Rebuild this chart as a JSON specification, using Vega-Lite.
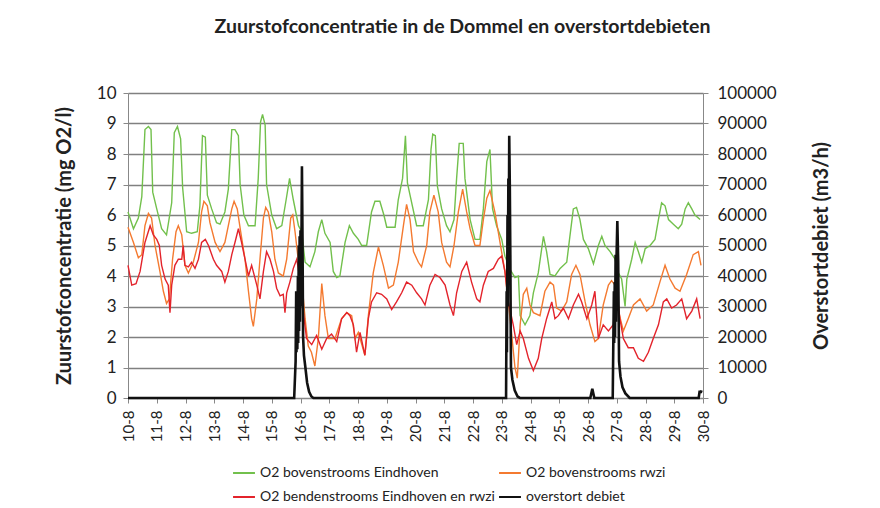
{
  "$schema": "https://vega.github.io/schema/vega-lite/v6.json",
  "width": 575,
  "height": 305,
  "autosize": {"type": "none"},
  "padding": {"left": 128, "top": 93, "right": 177, "bottom": 110},
  "background": "#ffffff",
  "config": {
    "font": "Lato",
    "view": {"stroke": null},
    "axis": {"labelColor": "#222", "titleColor": "#222", "labelFont": "Lato", "titleFont": "Lato"},
    "axisX": {"labelOverlap": false},
    "legend": {"labelFont": "Lato", "labelColor": "#222"}
  },
  "title": {
    "text": "Zuurstofconcentratie in de Dommel en overstortdebieten",
    "fontSize": 19.5,
    "fontWeight": "bold",
    "color": "#222",
    "anchor": "middle",
    "frame": "group",
    "dx": 47,
    "offset": 47
  },
  "datasets": {
    "o2": [
      {"series": "O2 bovenstrooms Eindhoven", "day": 10.0, "value": 6.1},
      {"series": "O2 bovenstrooms Eindhoven", "day": 10.19, "value": 5.55},
      {"series": "O2 bovenstrooms Eindhoven", "day": 10.36, "value": 5.9},
      {"series": "O2 bovenstrooms Eindhoven", "day": 10.48, "value": 6.6},
      {"series": "O2 bovenstrooms Eindhoven", "day": 10.59, "value": 8.8},
      {"series": "O2 bovenstrooms Eindhoven", "day": 10.71, "value": 8.9},
      {"series": "O2 bovenstrooms Eindhoven", "day": 10.8, "value": 8.8},
      {"series": "O2 bovenstrooms Eindhoven", "day": 10.86, "value": 6.75},
      {"series": "O2 bovenstrooms Eindhoven", "day": 11.0, "value": 6.2},
      {"series": "O2 bovenstrooms Eindhoven", "day": 11.17, "value": 5.55},
      {"series": "O2 bovenstrooms Eindhoven", "day": 11.34, "value": 5.35},
      {"series": "O2 bovenstrooms Eindhoven", "day": 11.52, "value": 6.4},
      {"series": "O2 bovenstrooms Eindhoven", "day": 11.61, "value": 8.7},
      {"series": "O2 bovenstrooms Eindhoven", "day": 11.72, "value": 8.9},
      {"series": "O2 bovenstrooms Eindhoven", "day": 11.83, "value": 8.5},
      {"series": "O2 bovenstrooms Eindhoven", "day": 11.9, "value": 6.9},
      {"series": "O2 bovenstrooms Eindhoven", "day": 12.04, "value": 5.45},
      {"series": "O2 bovenstrooms Eindhoven", "day": 12.21, "value": 5.4},
      {"series": "O2 bovenstrooms Eindhoven", "day": 12.41, "value": 5.45},
      {"series": "O2 bovenstrooms Eindhoven", "day": 12.5, "value": 6.3},
      {"series": "O2 bovenstrooms Eindhoven", "day": 12.59, "value": 8.6},
      {"series": "O2 bovenstrooms Eindhoven", "day": 12.69, "value": 8.55},
      {"series": "O2 bovenstrooms Eindhoven", "day": 12.76, "value": 6.65},
      {"series": "O2 bovenstrooms Eindhoven", "day": 12.91, "value": 6.2},
      {"series": "O2 bovenstrooms Eindhoven", "day": 13.08, "value": 5.75},
      {"series": "O2 bovenstrooms Eindhoven", "day": 13.2, "value": 5.7},
      {"series": "O2 bovenstrooms Eindhoven", "day": 13.37, "value": 6.1},
      {"series": "O2 bovenstrooms Eindhoven", "day": 13.49, "value": 6.85},
      {"series": "O2 bovenstrooms Eindhoven", "day": 13.61, "value": 8.8},
      {"series": "O2 bovenstrooms Eindhoven", "day": 13.72, "value": 8.8},
      {"series": "O2 bovenstrooms Eindhoven", "day": 13.84, "value": 8.6},
      {"series": "O2 bovenstrooms Eindhoven", "day": 13.9, "value": 7.0},
      {"series": "O2 bovenstrooms Eindhoven", "day": 14.03, "value": 6.0},
      {"series": "O2 bovenstrooms Eindhoven", "day": 14.19, "value": 5.65},
      {"series": "O2 bovenstrooms Eindhoven", "day": 14.42, "value": 5.65},
      {"series": "O2 bovenstrooms Eindhoven", "day": 14.53, "value": 7.2},
      {"series": "O2 bovenstrooms Eindhoven", "day": 14.61, "value": 9.05},
      {"series": "O2 bovenstrooms Eindhoven", "day": 14.68, "value": 9.3},
      {"series": "O2 bovenstrooms Eindhoven", "day": 14.77, "value": 8.95},
      {"series": "O2 bovenstrooms Eindhoven", "day": 14.82, "value": 7.0},
      {"series": "O2 bovenstrooms Eindhoven", "day": 15.0, "value": 6.0},
      {"series": "O2 bovenstrooms Eindhoven", "day": 15.17, "value": 5.55},
      {"series": "O2 bovenstrooms Eindhoven", "day": 15.35, "value": 5.65},
      {"series": "O2 bovenstrooms Eindhoven", "day": 15.5, "value": 6.5},
      {"series": "O2 bovenstrooms Eindhoven", "day": 15.62, "value": 7.2},
      {"series": "O2 bovenstrooms Eindhoven", "day": 15.75, "value": 6.5},
      {"series": "O2 bovenstrooms Eindhoven", "day": 15.93, "value": 5.65},
      {"series": "O2 bovenstrooms Eindhoven", "day": 16.04, "value": 5.45},
      {"series": "O2 bovenstrooms Eindhoven", "day": 16.16, "value": 4.45},
      {"series": "O2 bovenstrooms Eindhoven", "day": 16.33, "value": 4.3},
      {"series": "O2 bovenstrooms Eindhoven", "day": 16.5, "value": 4.8},
      {"series": "O2 bovenstrooms Eindhoven", "day": 16.62, "value": 5.45},
      {"series": "O2 bovenstrooms Eindhoven", "day": 16.74, "value": 5.85},
      {"series": "O2 bovenstrooms Eindhoven", "day": 16.85, "value": 5.4},
      {"series": "O2 bovenstrooms Eindhoven", "day": 17.03, "value": 5.1},
      {"series": "O2 bovenstrooms Eindhoven", "day": 17.14, "value": 4.15},
      {"series": "O2 bovenstrooms Eindhoven", "day": 17.26, "value": 3.95},
      {"series": "O2 bovenstrooms Eindhoven", "day": 17.37, "value": 4.0},
      {"series": "O2 bovenstrooms Eindhoven", "day": 17.55, "value": 5.1},
      {"series": "O2 bovenstrooms Eindhoven", "day": 17.7, "value": 5.65},
      {"series": "O2 bovenstrooms Eindhoven", "day": 17.84, "value": 5.4},
      {"series": "O2 bovenstrooms Eindhoven", "day": 18.01, "value": 5.2},
      {"series": "O2 bovenstrooms Eindhoven", "day": 18.13, "value": 5.0},
      {"series": "O2 bovenstrooms Eindhoven", "day": 18.3, "value": 5.0},
      {"series": "O2 bovenstrooms Eindhoven", "day": 18.47, "value": 6.1},
      {"series": "O2 bovenstrooms Eindhoven", "day": 18.59, "value": 6.45},
      {"series": "O2 bovenstrooms Eindhoven", "day": 18.76, "value": 6.45},
      {"series": "O2 bovenstrooms Eindhoven", "day": 18.9, "value": 6.0},
      {"series": "O2 bovenstrooms Eindhoven", "day": 19.0, "value": 5.6},
      {"series": "O2 bovenstrooms Eindhoven", "day": 19.29, "value": 5.6},
      {"series": "O2 bovenstrooms Eindhoven", "day": 19.4, "value": 6.5},
      {"series": "O2 bovenstrooms Eindhoven", "day": 19.55, "value": 7.2},
      {"series": "O2 bovenstrooms Eindhoven", "day": 19.65, "value": 8.6},
      {"series": "O2 bovenstrooms Eindhoven", "day": 19.72, "value": 7.05},
      {"series": "O2 bovenstrooms Eindhoven", "day": 19.81, "value": 6.65},
      {"series": "O2 bovenstrooms Eindhoven", "day": 20.04, "value": 5.65},
      {"series": "O2 bovenstrooms Eindhoven", "day": 20.27, "value": 5.65},
      {"series": "O2 bovenstrooms Eindhoven", "day": 20.45, "value": 6.5},
      {"series": "O2 bovenstrooms Eindhoven", "day": 20.54, "value": 8.15},
      {"series": "O2 bovenstrooms Eindhoven", "day": 20.6, "value": 8.65},
      {"series": "O2 bovenstrooms Eindhoven", "day": 20.69, "value": 8.6},
      {"series": "O2 bovenstrooms Eindhoven", "day": 20.76, "value": 6.95},
      {"series": "O2 bovenstrooms Eindhoven", "day": 20.91, "value": 6.2},
      {"series": "O2 bovenstrooms Eindhoven", "day": 21.08, "value": 5.65},
      {"series": "O2 bovenstrooms Eindhoven", "day": 21.2, "value": 5.45},
      {"series": "O2 bovenstrooms Eindhoven", "day": 21.34, "value": 5.85},
      {"series": "O2 bovenstrooms Eindhoven", "day": 21.43, "value": 7.2},
      {"series": "O2 bovenstrooms Eindhoven", "day": 21.52, "value": 8.35},
      {"series": "O2 bovenstrooms Eindhoven", "day": 21.66, "value": 8.35},
      {"series": "O2 bovenstrooms Eindhoven", "day": 21.72, "value": 7.2},
      {"series": "O2 bovenstrooms Eindhoven", "day": 21.9, "value": 5.85},
      {"series": "O2 bovenstrooms Eindhoven", "day": 22.07, "value": 5.2},
      {"series": "O2 bovenstrooms Eindhoven", "day": 22.24, "value": 5.2},
      {"series": "O2 bovenstrooms Eindhoven", "day": 22.36, "value": 6.2},
      {"series": "O2 bovenstrooms Eindhoven", "day": 22.48, "value": 7.75},
      {"series": "O2 bovenstrooms Eindhoven", "day": 22.59, "value": 8.15},
      {"series": "O2 bovenstrooms Eindhoven", "day": 22.68, "value": 6.2},
      {"series": "O2 bovenstrooms Eindhoven", "day": 22.82, "value": 5.65},
      {"series": "O2 bovenstrooms Eindhoven", "day": 23.0, "value": 5.2},
      {"series": "O2 bovenstrooms Eindhoven", "day": 23.11, "value": 4.65},
      {"series": "O2 bovenstrooms Eindhoven", "day": 23.3, "value": 4.2},
      {"series": "O2 bovenstrooms Eindhoven", "day": 23.46, "value": 3.95},
      {"series": "O2 bovenstrooms Eindhoven", "day": 23.58, "value": 4.0},
      {"series": "O2 bovenstrooms Eindhoven", "day": 23.64, "value": 2.7},
      {"series": "O2 bovenstrooms Eindhoven", "day": 23.81, "value": 2.4},
      {"series": "O2 bovenstrooms Eindhoven", "day": 23.98, "value": 2.7},
      {"series": "O2 bovenstrooms Eindhoven", "day": 24.1, "value": 3.45},
      {"series": "O2 bovenstrooms Eindhoven", "day": 24.27, "value": 4.1},
      {"series": "O2 bovenstrooms Eindhoven", "day": 24.45, "value": 5.3},
      {"series": "O2 bovenstrooms Eindhoven", "day": 24.56, "value": 4.8},
      {"series": "O2 bovenstrooms Eindhoven", "day": 24.68, "value": 4.05},
      {"series": "O2 bovenstrooms Eindhoven", "day": 24.85, "value": 4.0},
      {"series": "O2 bovenstrooms Eindhoven", "day": 25.03, "value": 4.25},
      {"series": "O2 bovenstrooms Eindhoven", "day": 25.26, "value": 4.45},
      {"series": "O2 bovenstrooms Eindhoven", "day": 25.37, "value": 5.3},
      {"series": "O2 bovenstrooms Eindhoven", "day": 25.49, "value": 6.2},
      {"series": "O2 bovenstrooms Eindhoven", "day": 25.6, "value": 6.25},
      {"series": "O2 bovenstrooms Eindhoven", "day": 25.72, "value": 5.85},
      {"series": "O2 bovenstrooms Eindhoven", "day": 25.84, "value": 5.2},
      {"series": "O2 bovenstrooms Eindhoven", "day": 26.01, "value": 4.9},
      {"series": "O2 bovenstrooms Eindhoven", "day": 26.19, "value": 4.4},
      {"series": "O2 bovenstrooms Eindhoven", "day": 26.36, "value": 5.0},
      {"series": "O2 bovenstrooms Eindhoven", "day": 26.48, "value": 5.3},
      {"series": "O2 bovenstrooms Eindhoven", "day": 26.59, "value": 5.0},
      {"series": "O2 bovenstrooms Eindhoven", "day": 26.77, "value": 4.8},
      {"series": "O2 bovenstrooms Eindhoven", "day": 26.94, "value": 4.55},
      {"series": "O2 bovenstrooms Eindhoven", "day": 27.06, "value": 4.1},
      {"series": "O2 bovenstrooms Eindhoven", "day": 27.17, "value": 3.9},
      {"series": "O2 bovenstrooms Eindhoven", "day": 27.29, "value": 3.0},
      {"series": "O2 bovenstrooms Eindhoven", "day": 27.35, "value": 3.9},
      {"series": "O2 bovenstrooms Eindhoven", "day": 27.52, "value": 4.55},
      {"series": "O2 bovenstrooms Eindhoven", "day": 27.64, "value": 5.1},
      {"series": "O2 bovenstrooms Eindhoven", "day": 27.75, "value": 4.8},
      {"series": "O2 bovenstrooms Eindhoven", "day": 27.87, "value": 4.45},
      {"series": "O2 bovenstrooms Eindhoven", "day": 27.99, "value": 4.9},
      {"series": "O2 bovenstrooms Eindhoven", "day": 28.16, "value": 5.0},
      {"series": "O2 bovenstrooms Eindhoven", "day": 28.33, "value": 5.2},
      {"series": "O2 bovenstrooms Eindhoven", "day": 28.45, "value": 5.85},
      {"series": "O2 bovenstrooms Eindhoven", "day": 28.56, "value": 6.4},
      {"series": "O2 bovenstrooms Eindhoven", "day": 28.68, "value": 6.3},
      {"series": "O2 bovenstrooms Eindhoven", "day": 28.8, "value": 5.85},
      {"series": "O2 bovenstrooms Eindhoven", "day": 28.97, "value": 5.7},
      {"series": "O2 bovenstrooms Eindhoven", "day": 29.14, "value": 5.55},
      {"series": "O2 bovenstrooms Eindhoven", "day": 29.26, "value": 5.7},
      {"series": "O2 bovenstrooms Eindhoven", "day": 29.38, "value": 6.2},
      {"series": "O2 bovenstrooms Eindhoven", "day": 29.49, "value": 6.4},
      {"series": "O2 bovenstrooms Eindhoven", "day": 29.61, "value": 6.2},
      {"series": "O2 bovenstrooms Eindhoven", "day": 29.72, "value": 6.0},
      {"series": "O2 bovenstrooms Eindhoven", "day": 29.9, "value": 5.85},

      {"series": "O2 bovenstrooms rwzi", "day": 10.0, "value": 5.6},
      {"series": "O2 bovenstrooms rwzi", "day": 10.19, "value": 5.1},
      {"series": "O2 bovenstrooms rwzi", "day": 10.36, "value": 4.6},
      {"series": "O2 bovenstrooms rwzi", "day": 10.48, "value": 4.7},
      {"series": "O2 bovenstrooms rwzi", "day": 10.59, "value": 5.65},
      {"series": "O2 bovenstrooms rwzi", "day": 10.71, "value": 6.05},
      {"series": "O2 bovenstrooms rwzi", "day": 10.82, "value": 5.9},
      {"series": "O2 bovenstrooms rwzi", "day": 10.94, "value": 5.0},
      {"series": "O2 bovenstrooms rwzi", "day": 11.11, "value": 4.15},
      {"series": "O2 bovenstrooms rwzi", "day": 11.23, "value": 3.5},
      {"series": "O2 bovenstrooms rwzi", "day": 11.34, "value": 3.1},
      {"series": "O2 bovenstrooms rwzi", "day": 11.44, "value": 3.25},
      {"series": "O2 bovenstrooms rwzi", "day": 11.55, "value": 4.55},
      {"series": "O2 bovenstrooms rwzi", "day": 11.67, "value": 5.45},
      {"series": "O2 bovenstrooms rwzi", "day": 11.75, "value": 5.65},
      {"series": "O2 bovenstrooms rwzi", "day": 11.87, "value": 5.35},
      {"series": "O2 bovenstrooms rwzi", "day": 11.98, "value": 4.35},
      {"series": "O2 bovenstrooms rwzi", "day": 12.1, "value": 4.1},
      {"series": "O2 bovenstrooms rwzi", "day": 12.27, "value": 4.45},
      {"series": "O2 bovenstrooms rwzi", "day": 12.45, "value": 5.1},
      {"series": "O2 bovenstrooms rwzi", "day": 12.56, "value": 6.1},
      {"series": "O2 bovenstrooms rwzi", "day": 12.64, "value": 6.45},
      {"series": "O2 bovenstrooms rwzi", "day": 12.76, "value": 6.3},
      {"series": "O2 bovenstrooms rwzi", "day": 12.85, "value": 5.75},
      {"series": "O2 bovenstrooms rwzi", "day": 13.03, "value": 5.1},
      {"series": "O2 bovenstrooms rwzi", "day": 13.2, "value": 4.8},
      {"series": "O2 bovenstrooms rwzi", "day": 13.37, "value": 5.1},
      {"series": "O2 bovenstrooms rwzi", "day": 13.49, "value": 5.65},
      {"series": "O2 bovenstrooms rwzi", "day": 13.61, "value": 6.2},
      {"series": "O2 bovenstrooms rwzi", "day": 13.69, "value": 6.45},
      {"series": "O2 bovenstrooms rwzi", "day": 13.8, "value": 6.2},
      {"series": "O2 bovenstrooms rwzi", "day": 13.92, "value": 5.45},
      {"series": "O2 bovenstrooms rwzi", "day": 14.07, "value": 4.55},
      {"series": "O2 bovenstrooms rwzi", "day": 14.19, "value": 3.5},
      {"series": "O2 bovenstrooms rwzi", "day": 14.3, "value": 2.6},
      {"series": "O2 bovenstrooms rwzi", "day": 14.36, "value": 2.35},
      {"series": "O2 bovenstrooms rwzi", "day": 14.48, "value": 3.25},
      {"series": "O2 bovenstrooms rwzi", "day": 14.59, "value": 4.55},
      {"series": "O2 bovenstrooms rwzi", "day": 14.71, "value": 5.9},
      {"series": "O2 bovenstrooms rwzi", "day": 14.79, "value": 6.25},
      {"series": "O2 bovenstrooms rwzi", "day": 14.88, "value": 6.1},
      {"series": "O2 bovenstrooms rwzi", "day": 15.0, "value": 5.45},
      {"series": "O2 bovenstrooms rwzi", "day": 15.11, "value": 4.55},
      {"series": "O2 bovenstrooms rwzi", "day": 15.23, "value": 4.1},
      {"series": "O2 bovenstrooms rwzi", "day": 15.4, "value": 4.0},
      {"series": "O2 bovenstrooms rwzi", "day": 15.52, "value": 4.55},
      {"series": "O2 bovenstrooms rwzi", "day": 15.66, "value": 5.9},
      {"series": "O2 bovenstrooms rwzi", "day": 15.73, "value": 6.0},
      {"series": "O2 bovenstrooms rwzi", "day": 15.81, "value": 5.45},
      {"series": "O2 bovenstrooms rwzi", "day": 15.92, "value": 4.55},
      {"series": "O2 bovenstrooms rwzi", "day": 16.04, "value": 3.9},
      {"series": "O2 bovenstrooms rwzi", "day": 16.16, "value": 2.6},
      {"series": "O2 bovenstrooms rwzi", "day": 16.27, "value": 1.7},
      {"series": "O2 bovenstrooms rwzi", "day": 16.38, "value": 1.5},
      {"series": "O2 bovenstrooms rwzi", "day": 16.5, "value": 1.05},
      {"series": "O2 bovenstrooms rwzi", "day": 16.62, "value": 1.95},
      {"series": "O2 bovenstrooms rwzi", "day": 16.74, "value": 3.75},
      {"series": "O2 bovenstrooms rwzi", "day": 16.85, "value": 2.7},
      {"series": "O2 bovenstrooms rwzi", "day": 16.97, "value": 1.95},
      {"series": "O2 bovenstrooms rwzi", "day": 17.2, "value": 1.95},
      {"series": "O2 bovenstrooms rwzi", "day": 17.43, "value": 2.6},
      {"series": "O2 bovenstrooms rwzi", "day": 17.61, "value": 2.8},
      {"series": "O2 bovenstrooms rwzi", "day": 17.78, "value": 2.7},
      {"series": "O2 bovenstrooms rwzi", "day": 17.9, "value": 1.95},
      {"series": "O2 bovenstrooms rwzi", "day": 18.01, "value": 2.15},
      {"series": "O2 bovenstrooms rwzi", "day": 18.24, "value": 1.4},
      {"series": "O2 bovenstrooms rwzi", "day": 18.36, "value": 2.7},
      {"series": "O2 bovenstrooms rwzi", "day": 18.53, "value": 4.1},
      {"series": "O2 bovenstrooms rwzi", "day": 18.71, "value": 4.95},
      {"series": "O2 bovenstrooms rwzi", "day": 18.88, "value": 4.35},
      {"series": "O2 bovenstrooms rwzi", "day": 19.06, "value": 3.6},
      {"series": "O2 bovenstrooms rwzi", "day": 19.23, "value": 3.7},
      {"series": "O2 bovenstrooms rwzi", "day": 19.4, "value": 4.45},
      {"series": "O2 bovenstrooms rwzi", "day": 19.58, "value": 5.65},
      {"series": "O2 bovenstrooms rwzi", "day": 19.69, "value": 6.35},
      {"series": "O2 bovenstrooms rwzi", "day": 19.81, "value": 5.85},
      {"series": "O2 bovenstrooms rwzi", "day": 19.93, "value": 4.8},
      {"series": "O2 bovenstrooms rwzi", "day": 20.1, "value": 4.45},
      {"series": "O2 bovenstrooms rwzi", "day": 20.21, "value": 4.3},
      {"series": "O2 bovenstrooms rwzi", "day": 20.39, "value": 5.0},
      {"series": "O2 bovenstrooms rwzi", "day": 20.5, "value": 6.1},
      {"series": "O2 bovenstrooms rwzi", "day": 20.64, "value": 6.65},
      {"series": "O2 bovenstrooms rwzi", "day": 20.79, "value": 6.1},
      {"series": "O2 bovenstrooms rwzi", "day": 20.91, "value": 5.1},
      {"series": "O2 bovenstrooms rwzi", "day": 21.08, "value": 4.45},
      {"series": "O2 bovenstrooms rwzi", "day": 21.2, "value": 4.3},
      {"series": "O2 bovenstrooms rwzi", "day": 21.34, "value": 5.0},
      {"series": "O2 bovenstrooms rwzi", "day": 21.49, "value": 6.1},
      {"series": "O2 bovenstrooms rwzi", "day": 21.64, "value": 6.85},
      {"series": "O2 bovenstrooms rwzi", "day": 21.78, "value": 6.1},
      {"series": "O2 bovenstrooms rwzi", "day": 21.9, "value": 5.55},
      {"series": "O2 bovenstrooms rwzi", "day": 22.07, "value": 5.0},
      {"series": "O2 bovenstrooms rwzi", "day": 22.24, "value": 5.0},
      {"series": "O2 bovenstrooms rwzi", "day": 22.36, "value": 5.85},
      {"series": "O2 bovenstrooms rwzi", "day": 22.48, "value": 6.55},
      {"series": "O2 bovenstrooms rwzi", "day": 22.59, "value": 6.8},
      {"series": "O2 bovenstrooms rwzi", "day": 22.76, "value": 6.1},
      {"series": "O2 bovenstrooms rwzi", "day": 22.94, "value": 5.1},
      {"series": "O2 bovenstrooms rwzi", "day": 23.11, "value": 4.15},
      {"series": "O2 bovenstrooms rwzi", "day": 23.29, "value": 2.6},
      {"series": "O2 bovenstrooms rwzi", "day": 23.46, "value": 1.0},
      {"series": "O2 bovenstrooms rwzi", "day": 23.54, "value": 0.65},
      {"series": "O2 bovenstrooms rwzi", "day": 23.64, "value": 2.4},
      {"series": "O2 bovenstrooms rwzi", "day": 23.75, "value": 3.4},
      {"series": "O2 bovenstrooms rwzi", "day": 23.87, "value": 3.6},
      {"series": "O2 bovenstrooms rwzi", "day": 23.98, "value": 3.05},
      {"series": "O2 bovenstrooms rwzi", "day": 24.1, "value": 2.8},
      {"series": "O2 bovenstrooms rwzi", "day": 24.33, "value": 2.7},
      {"series": "O2 bovenstrooms rwzi", "day": 24.5, "value": 3.5},
      {"series": "O2 bovenstrooms rwzi", "day": 24.68, "value": 3.8},
      {"series": "O2 bovenstrooms rwzi", "day": 24.8, "value": 3.7},
      {"series": "O2 bovenstrooms rwzi", "day": 24.91, "value": 2.95},
      {"series": "O2 bovenstrooms rwzi", "day": 25.08, "value": 2.85},
      {"series": "O2 bovenstrooms rwzi", "day": 25.26, "value": 3.15},
      {"series": "O2 bovenstrooms rwzi", "day": 25.43, "value": 4.05},
      {"series": "O2 bovenstrooms rwzi", "day": 25.58, "value": 4.35},
      {"series": "O2 bovenstrooms rwzi", "day": 25.72, "value": 4.05},
      {"series": "O2 bovenstrooms rwzi", "day": 25.9, "value": 3.15},
      {"series": "O2 bovenstrooms rwzi", "day": 26.07, "value": 2.4},
      {"series": "O2 bovenstrooms rwzi", "day": 26.24, "value": 1.85},
      {"series": "O2 bovenstrooms rwzi", "day": 26.36, "value": 1.95},
      {"series": "O2 bovenstrooms rwzi", "day": 26.53, "value": 3.05},
      {"series": "O2 bovenstrooms rwzi", "day": 26.71, "value": 3.7},
      {"series": "O2 bovenstrooms rwzi", "day": 26.82, "value": 3.85},
      {"series": "O2 bovenstrooms rwzi", "day": 26.94, "value": 3.7},
      {"series": "O2 bovenstrooms rwzi", "day": 27.06, "value": 2.85},
      {"series": "O2 bovenstrooms rwzi", "day": 27.23, "value": 2.2},
      {"series": "O2 bovenstrooms rwzi", "day": 27.4, "value": 2.6},
      {"series": "O2 bovenstrooms rwzi", "day": 27.58, "value": 3.05},
      {"series": "O2 bovenstrooms rwzi", "day": 27.81, "value": 3.25},
      {"series": "O2 bovenstrooms rwzi", "day": 28.04, "value": 2.85},
      {"series": "O2 bovenstrooms rwzi", "day": 28.27, "value": 3.05},
      {"series": "O2 bovenstrooms rwzi", "day": 28.5, "value": 3.8},
      {"series": "O2 bovenstrooms rwzi", "day": 28.68, "value": 4.35},
      {"series": "O2 bovenstrooms rwzi", "day": 28.85, "value": 3.9},
      {"series": "O2 bovenstrooms rwzi", "day": 29.03, "value": 3.6},
      {"series": "O2 bovenstrooms rwzi", "day": 29.2, "value": 3.5},
      {"series": "O2 bovenstrooms rwzi", "day": 29.43, "value": 4.05},
      {"series": "O2 bovenstrooms rwzi", "day": 29.66, "value": 4.7},
      {"series": "O2 bovenstrooms rwzi", "day": 29.84, "value": 4.8},
      {"series": "O2 bovenstrooms rwzi", "day": 29.93, "value": 4.35},

      {"series": "O2 bendenstrooms Eindhoven en rwzi", "day": 10.0, "value": 4.35},
      {"series": "O2 bendenstrooms Eindhoven en rwzi", "day": 10.13, "value": 3.7},
      {"series": "O2 bendenstrooms Eindhoven en rwzi", "day": 10.28, "value": 3.75},
      {"series": "O2 bendenstrooms Eindhoven en rwzi", "day": 10.42, "value": 4.15},
      {"series": "O2 bendenstrooms Eindhoven en rwzi", "day": 10.59, "value": 5.1},
      {"series": "O2 bendenstrooms Eindhoven en rwzi", "day": 10.77, "value": 5.65},
      {"series": "O2 bendenstrooms Eindhoven en rwzi", "day": 10.88, "value": 5.35},
      {"series": "O2 bendenstrooms Eindhoven en rwzi", "day": 11.0, "value": 5.2},
      {"series": "O2 bendenstrooms Eindhoven en rwzi", "day": 11.09, "value": 5.0},
      {"series": "O2 bendenstrooms Eindhoven en rwzi", "day": 11.17, "value": 4.35},
      {"series": "O2 bendenstrooms Eindhoven en rwzi", "day": 11.29, "value": 3.9},
      {"series": "O2 bendenstrooms Eindhoven en rwzi", "day": 11.4, "value": 3.7},
      {"series": "O2 bendenstrooms Eindhoven en rwzi", "day": 11.46, "value": 2.8},
      {"series": "O2 bendenstrooms Eindhoven en rwzi", "day": 11.52, "value": 3.7},
      {"series": "O2 bendenstrooms Eindhoven en rwzi", "day": 11.63, "value": 4.35},
      {"series": "O2 bendenstrooms Eindhoven en rwzi", "day": 11.75, "value": 4.55},
      {"series": "O2 bendenstrooms Eindhoven en rwzi", "day": 11.87, "value": 4.55},
      {"series": "O2 bendenstrooms Eindhoven en rwzi", "day": 11.92, "value": 5.0},
      {"series": "O2 bendenstrooms Eindhoven en rwzi", "day": 11.98, "value": 4.35},
      {"series": "O2 bendenstrooms Eindhoven en rwzi", "day": 12.1, "value": 4.3},
      {"series": "O2 bendenstrooms Eindhoven en rwzi", "day": 12.21, "value": 4.45},
      {"series": "O2 bendenstrooms Eindhoven en rwzi", "day": 12.33, "value": 4.25},
      {"series": "O2 bendenstrooms Eindhoven en rwzi", "day": 12.45, "value": 4.55},
      {"series": "O2 bendenstrooms Eindhoven en rwzi", "day": 12.56, "value": 5.1},
      {"series": "O2 bendenstrooms Eindhoven en rwzi", "day": 12.69, "value": 5.2},
      {"series": "O2 bendenstrooms Eindhoven en rwzi", "day": 12.8, "value": 5.0},
      {"series": "O2 bendenstrooms Eindhoven en rwzi", "day": 12.97, "value": 4.55},
      {"series": "O2 bendenstrooms Eindhoven en rwzi", "day": 13.08, "value": 4.35},
      {"series": "O2 bendenstrooms Eindhoven en rwzi", "day": 13.26, "value": 4.15},
      {"series": "O2 bendenstrooms Eindhoven en rwzi", "day": 13.37, "value": 3.8},
      {"series": "O2 bendenstrooms Eindhoven en rwzi", "day": 13.49, "value": 4.15},
      {"series": "O2 bendenstrooms Eindhoven en rwzi", "day": 13.61, "value": 4.7},
      {"series": "O2 bendenstrooms Eindhoven en rwzi", "day": 13.72, "value": 5.1},
      {"series": "O2 bendenstrooms Eindhoven en rwzi", "day": 13.84, "value": 5.55},
      {"series": "O2 bendenstrooms Eindhoven en rwzi", "day": 13.95, "value": 5.1},
      {"series": "O2 bendenstrooms Eindhoven en rwzi", "day": 14.07, "value": 4.55},
      {"series": "O2 bendenstrooms Eindhoven en rwzi", "day": 14.19, "value": 4.0},
      {"series": "O2 bendenstrooms Eindhoven en rwzi", "day": 14.3, "value": 4.35},
      {"series": "O2 bendenstrooms Eindhoven en rwzi", "day": 14.48, "value": 3.7},
      {"series": "O2 bendenstrooms Eindhoven en rwzi", "day": 14.59, "value": 3.25},
      {"series": "O2 bendenstrooms Eindhoven en rwzi", "day": 14.71, "value": 4.15},
      {"series": "O2 bendenstrooms Eindhoven en rwzi", "day": 14.82, "value": 4.8},
      {"series": "O2 bendenstrooms Eindhoven en rwzi", "day": 14.94, "value": 4.55},
      {"series": "O2 bendenstrooms Eindhoven en rwzi", "day": 15.06, "value": 4.15},
      {"series": "O2 bendenstrooms Eindhoven en rwzi", "day": 15.17, "value": 3.6},
      {"series": "O2 bendenstrooms Eindhoven en rwzi", "day": 15.29, "value": 3.35},
      {"series": "O2 bendenstrooms Eindhoven en rwzi", "day": 15.4, "value": 3.4},
      {"series": "O2 bendenstrooms Eindhoven en rwzi", "day": 15.46, "value": 2.8},
      {"series": "O2 bendenstrooms Eindhoven en rwzi", "day": 15.52, "value": 3.45},
      {"series": "O2 bendenstrooms Eindhoven en rwzi", "day": 15.63, "value": 3.8},
      {"series": "O2 bendenstrooms Eindhoven en rwzi", "day": 15.75, "value": 4.25},
      {"series": "O2 bendenstrooms Eindhoven en rwzi", "day": 15.87, "value": 4.55},
      {"series": "O2 bendenstrooms Eindhoven en rwzi", "day": 15.98, "value": 3.9},
      {"series": "O2 bendenstrooms Eindhoven en rwzi", "day": 16.1, "value": 2.8},
      {"series": "O2 bendenstrooms Eindhoven en rwzi", "day": 16.21, "value": 1.95},
      {"series": "O2 bendenstrooms Eindhoven en rwzi", "day": 16.39, "value": 1.75},
      {"series": "O2 bendenstrooms Eindhoven en rwzi", "day": 16.56, "value": 2.05},
      {"series": "O2 bendenstrooms Eindhoven en rwzi", "day": 16.74, "value": 1.6},
      {"series": "O2 bendenstrooms Eindhoven en rwzi", "day": 16.91, "value": 1.95},
      {"series": "O2 bendenstrooms Eindhoven en rwzi", "day": 17.08, "value": 2.1},
      {"series": "O2 bendenstrooms Eindhoven en rwzi", "day": 17.26, "value": 1.85},
      {"series": "O2 bendenstrooms Eindhoven en rwzi", "day": 17.43, "value": 2.6},
      {"series": "O2 bendenstrooms Eindhoven en rwzi", "day": 17.61, "value": 2.8},
      {"series": "O2 bendenstrooms Eindhoven en rwzi", "day": 17.72, "value": 2.7},
      {"series": "O2 bendenstrooms Eindhoven en rwzi", "day": 17.84, "value": 2.4},
      {"series": "O2 bendenstrooms Eindhoven en rwzi", "day": 17.95, "value": 1.5},
      {"series": "O2 bendenstrooms Eindhoven en rwzi", "day": 18.07, "value": 2.15},
      {"series": "O2 bendenstrooms Eindhoven en rwzi", "day": 18.24, "value": 1.4},
      {"series": "O2 bendenstrooms Eindhoven en rwzi", "day": 18.36, "value": 2.6},
      {"series": "O2 bendenstrooms Eindhoven en rwzi", "day": 18.47, "value": 3.15},
      {"series": "O2 bendenstrooms Eindhoven en rwzi", "day": 18.65, "value": 3.45},
      {"series": "O2 bendenstrooms Eindhoven en rwzi", "day": 18.82, "value": 3.4},
      {"series": "O2 bendenstrooms Eindhoven en rwzi", "day": 19.0, "value": 3.25},
      {"series": "O2 bendenstrooms Eindhoven en rwzi", "day": 19.17, "value": 2.9},
      {"series": "O2 bendenstrooms Eindhoven en rwzi", "day": 19.34, "value": 3.15},
      {"series": "O2 bendenstrooms Eindhoven en rwzi", "day": 19.52, "value": 3.45},
      {"series": "O2 bendenstrooms Eindhoven en rwzi", "day": 19.69, "value": 3.8},
      {"series": "O2 bendenstrooms Eindhoven en rwzi", "day": 19.87, "value": 3.7},
      {"series": "O2 bendenstrooms Eindhoven en rwzi", "day": 20.04, "value": 3.45},
      {"series": "O2 bendenstrooms Eindhoven en rwzi", "day": 20.21, "value": 3.25},
      {"series": "O2 bendenstrooms Eindhoven en rwzi", "day": 20.33, "value": 3.05},
      {"series": "O2 bendenstrooms Eindhoven en rwzi", "day": 20.5, "value": 3.7},
      {"series": "O2 bendenstrooms Eindhoven en rwzi", "day": 20.68, "value": 4.05},
      {"series": "O2 bendenstrooms Eindhoven en rwzi", "day": 20.85, "value": 3.95},
      {"series": "O2 bendenstrooms Eindhoven en rwzi", "day": 21.03, "value": 3.7},
      {"series": "O2 bendenstrooms Eindhoven en rwzi", "day": 21.2, "value": 3.05},
      {"series": "O2 bendenstrooms Eindhoven en rwzi", "day": 21.32, "value": 2.7},
      {"series": "O2 bendenstrooms Eindhoven en rwzi", "day": 21.43, "value": 3.45},
      {"series": "O2 bendenstrooms Eindhoven en rwzi", "day": 21.61, "value": 4.15},
      {"series": "O2 bendenstrooms Eindhoven en rwzi", "day": 21.78, "value": 4.45},
      {"series": "O2 bendenstrooms Eindhoven en rwzi", "day": 21.95, "value": 3.8},
      {"series": "O2 bendenstrooms Eindhoven en rwzi", "day": 22.13, "value": 3.25},
      {"series": "O2 bendenstrooms Eindhoven en rwzi", "day": 22.24, "value": 3.15},
      {"series": "O2 bendenstrooms Eindhoven en rwzi", "day": 22.36, "value": 3.7},
      {"series": "O2 bendenstrooms Eindhoven en rwzi", "day": 22.53, "value": 4.15},
      {"series": "O2 bendenstrooms Eindhoven en rwzi", "day": 22.71, "value": 4.25},
      {"series": "O2 bendenstrooms Eindhoven en rwzi", "day": 22.88, "value": 4.55},
      {"series": "O2 bendenstrooms Eindhoven en rwzi", "day": 23.0, "value": 4.65},
      {"series": "O2 bendenstrooms Eindhoven en rwzi", "day": 23.11, "value": 4.15},
      {"series": "O2 bendenstrooms Eindhoven en rwzi", "day": 23.23, "value": 3.15},
      {"series": "O2 bendenstrooms Eindhoven en rwzi", "day": 23.4, "value": 2.4},
      {"series": "O2 bendenstrooms Eindhoven en rwzi", "day": 23.52, "value": 1.75},
      {"series": "O2 bendenstrooms Eindhoven en rwzi", "day": 23.64, "value": 2.2},
      {"series": "O2 bendenstrooms Eindhoven en rwzi", "day": 23.75, "value": 1.95},
      {"series": "O2 bendenstrooms Eindhoven en rwzi", "day": 23.93, "value": 1.3},
      {"series": "O2 bendenstrooms Eindhoven en rwzi", "day": 24.1, "value": 0.9},
      {"series": "O2 bendenstrooms Eindhoven en rwzi", "day": 24.27, "value": 1.3},
      {"series": "O2 bendenstrooms Eindhoven en rwzi", "day": 24.39, "value": 1.95},
      {"series": "O2 bendenstrooms Eindhoven en rwzi", "day": 24.56, "value": 2.6},
      {"series": "O2 bendenstrooms Eindhoven en rwzi", "day": 24.74, "value": 3.15},
      {"series": "O2 bendenstrooms Eindhoven en rwzi", "day": 24.85, "value": 2.6},
      {"series": "O2 bendenstrooms Eindhoven en rwzi", "day": 24.97, "value": 2.7},
      {"series": "O2 bendenstrooms Eindhoven en rwzi", "day": 25.14, "value": 2.95},
      {"series": "O2 bendenstrooms Eindhoven en rwzi", "day": 25.32, "value": 2.6},
      {"series": "O2 bendenstrooms Eindhoven en rwzi", "day": 25.49, "value": 3.05},
      {"series": "O2 bendenstrooms Eindhoven en rwzi", "day": 25.67, "value": 3.4},
      {"series": "O2 bendenstrooms Eindhoven en rwzi", "day": 25.78, "value": 3.15},
      {"series": "O2 bendenstrooms Eindhoven en rwzi", "day": 25.96, "value": 2.6},
      {"series": "O2 bendenstrooms Eindhoven en rwzi", "day": 26.13, "value": 3.05},
      {"series": "O2 bendenstrooms Eindhoven en rwzi", "day": 26.24, "value": 3.5},
      {"series": "O2 bendenstrooms Eindhoven en rwzi", "day": 26.36, "value": 1.95},
      {"series": "O2 bendenstrooms Eindhoven en rwzi", "day": 26.53, "value": 2.4},
      {"series": "O2 bendenstrooms Eindhoven en rwzi", "day": 26.71, "value": 2.2},
      {"series": "O2 bendenstrooms Eindhoven en rwzi", "day": 26.88, "value": 2.4},
      {"series": "O2 bendenstrooms Eindhoven en rwzi", "day": 27.0, "value": 3.5},
      {"series": "O2 bendenstrooms Eindhoven en rwzi", "day": 27.11, "value": 2.6},
      {"series": "O2 bendenstrooms Eindhoven en rwzi", "day": 27.23, "value": 1.95},
      {"series": "O2 bendenstrooms Eindhoven en rwzi", "day": 27.4, "value": 1.65},
      {"series": "O2 bendenstrooms Eindhoven en rwzi", "day": 27.58, "value": 1.65},
      {"series": "O2 bendenstrooms Eindhoven en rwzi", "day": 27.75, "value": 1.3},
      {"series": "O2 bendenstrooms Eindhoven en rwzi", "day": 27.93, "value": 1.2},
      {"series": "O2 bendenstrooms Eindhoven en rwzi", "day": 28.1, "value": 1.5},
      {"series": "O2 bendenstrooms Eindhoven en rwzi", "day": 28.27, "value": 1.95},
      {"series": "O2 bendenstrooms Eindhoven en rwzi", "day": 28.45, "value": 2.4},
      {"series": "O2 bendenstrooms Eindhoven en rwzi", "day": 28.62, "value": 3.15},
      {"series": "O2 bendenstrooms Eindhoven en rwzi", "day": 28.74, "value": 3.25},
      {"series": "O2 bendenstrooms Eindhoven en rwzi", "day": 28.91, "value": 2.95},
      {"series": "O2 bendenstrooms Eindhoven en rwzi", "day": 29.08, "value": 3.05},
      {"series": "O2 bendenstrooms Eindhoven en rwzi", "day": 29.26, "value": 3.25},
      {"series": "O2 bendenstrooms Eindhoven en rwzi", "day": 29.43, "value": 2.6},
      {"series": "O2 bendenstrooms Eindhoven en rwzi", "day": 29.61, "value": 2.85},
      {"series": "O2 bendenstrooms Eindhoven en rwzi", "day": 29.78, "value": 3.25},
      {"series": "O2 bendenstrooms Eindhoven en rwzi", "day": 29.9, "value": 2.6}
    ],
    "flow": [
      {"day": 10.0, "flow": 0},
      {"day": 15.78, "flow": 0},
      {"day": 15.83, "flow": 12000},
      {"day": 15.85, "flow": 35000},
      {"day": 15.86, "flow": 15000},
      {"day": 15.88, "flow": 34000},
      {"day": 15.89, "flow": 16000},
      {"day": 15.91, "flow": 40000},
      {"day": 15.92, "flow": 18000},
      {"day": 15.94, "flow": 50000},
      {"day": 15.95, "flow": 22000},
      {"day": 15.97, "flow": 53000},
      {"day": 15.98, "flow": 25000},
      {"day": 16.0, "flow": 55000},
      {"day": 16.02, "flow": 30000},
      {"day": 16.05, "flow": 76000},
      {"day": 16.07, "flow": 52000},
      {"day": 16.09, "flow": 20000},
      {"day": 16.12, "flow": 14000},
      {"day": 16.17, "flow": 10000},
      {"day": 16.23, "flow": 5000},
      {"day": 16.3, "flow": 2000},
      {"day": 16.38, "flow": 500},
      {"day": 16.45, "flow": 0},
      {"day": 23.15, "flow": 0},
      {"day": 23.17, "flow": 35000},
      {"day": 23.18, "flow": 15000},
      {"day": 23.2, "flow": 60000},
      {"day": 23.21, "flow": 30000},
      {"day": 23.23, "flow": 72000},
      {"day": 23.24, "flow": 40000},
      {"day": 23.26, "flow": 86000},
      {"day": 23.28, "flow": 70000},
      {"day": 23.3, "flow": 45000},
      {"day": 23.32, "flow": 10000},
      {"day": 23.37, "flow": 6000},
      {"day": 23.45, "flow": 2500},
      {"day": 23.55, "flow": 500},
      {"day": 23.64, "flow": 0},
      {"day": 26.08, "flow": 0},
      {"day": 26.15, "flow": 3000},
      {"day": 26.22, "flow": 0},
      {"day": 26.86, "flow": 0},
      {"day": 26.9, "flow": 35000},
      {"day": 26.91, "flow": 18000},
      {"day": 26.93, "flow": 38000},
      {"day": 26.94, "flow": 20000},
      {"day": 26.96, "flow": 47000},
      {"day": 26.97, "flow": 25000},
      {"day": 26.99, "flow": 45000},
      {"day": 27.02, "flow": 58000},
      {"day": 27.05, "flow": 45000},
      {"day": 27.08, "flow": 12000},
      {"day": 27.13, "flow": 7000},
      {"day": 27.2, "flow": 3500},
      {"day": 27.3, "flow": 1500},
      {"day": 27.45, "flow": 0},
      {"day": 29.85, "flow": 0},
      {"day": 29.88, "flow": 2000},
      {"day": 29.93, "flow": 2000},
      {"day": 29.95, "flow": 2500}
    ]
  },
  "encoding": {
    "x": {
      "field": "day",
      "type": "quantitative",
      "scale": {"domain": [10, 30], "nice": false, "zero": false},
      "axis": {
        "values": [10, 11, 12, 13, 14, 15, 16, 17, 18, 19, 20, 21, 22, 23, 24, 25, 26, 27, 28, 29, 30],
        "labelExpr": "datum.value + '-8'",
        "labelAngle": -90,
        "labelOverlap": false,
        "labelFontSize": 15,
        "labelPadding": 7,
        "grid": false,
        "title": null,
        "tickSize": 5,
        "tickColor": "#888",
        "domainColor": "#888"
      }
    }
  },
  "layer": [
    {
      "data": {"name": "o2"},
      "mark": {"type": "line", "strokeWidth": 1.4},
      "encoding": {
        "y": {
          "field": "value",
          "type": "quantitative",
          "scale": {"domain": [0, 10], "nice": false},
          "axis": {
            "values": [0, 1, 2, 3, 4, 5, 6, 7, 8, 9, 10],
            "title": "Zuurstofconcentratie (mg O2/l)",
            "titleFontSize": 20,
            "titleFontWeight": "bold",
            "titlePadding": 22,
            "labelFontSize": 17,
            "labelPadding": 7,
            "tickSize": 5,
            "tickColor": "#888",
            "domainColor": "#888",
            "grid": true,
            "gridColor": "#808080",
            "gridWidth": 1.4
          }
        },
        "color": {
          "field": "series",
          "type": "nominal",
          "scale": {
            "domain": ["O2 bovenstrooms Eindhoven", "O2 bovenstrooms rwzi", "O2 bendenstrooms Eindhoven en rwzi", "overstort debiet"],
            "range": ["#72c04c", "#f47a30", "#e3232b", "#111111"]
          },
          "legend": {
            "title": null,
            "orient": "none",
            "legendX": 104,
            "legendY": 368,
            "columns": 2,
            "direction": "horizontal",
            "symbolType": "stroke",
            "symbolSize": 480,
            "symbolStrokeWidth": 2,
            "labelFontSize": 14,
            "labelLimit": 0,
            "labelOffset": 4,
            "rowPadding": 5,
            "columnPadding": 0
          }
        }
      }
    },
    {
      "data": {"name": "flow"},
      "mark": {"type": "line", "strokeWidth": 2.6},
      "encoding": {
        "y": {
          "field": "flow",
          "type": "quantitative",
          "scale": {"domain": [0, 100000], "nice": false},
          "axis": {
            "orient": "right",
            "values": [0, 10000, 20000, 30000, 40000, 50000, 60000, 70000, 80000, 90000, 100000],
            "format": "d",
            "title": "Overstortdebiet (m3/h)",
            "titleAngle": -90,
            "titleFontSize": 20,
            "titleFontWeight": "bold",
            "titlePadding": 55,
            "labelFontSize": 17,
            "labelPadding": 9,
            "tickSize": 5,
            "tickColor": "#888",
            "domainColor": "#888",
            "grid": false
          }
        },
        "color": {"datum": "overstort debiet"}
      }
    }
  ],
  "resolve": {"scale": {"y": "independent"}}
}
